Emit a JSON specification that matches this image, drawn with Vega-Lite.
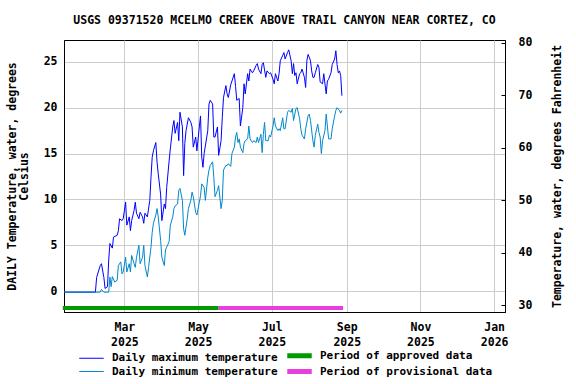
{
  "$schema": "https://vega.github.io/schema/vega-lite/v6.json",
  "width": 441,
  "height": 272,
  "autosize": {"type": "none"},
  "padding": {"left": 64, "top": 40, "right": 71, "bottom": 72},
  "background": "white",
  "config": {
    "font": "DejaVu Sans Mono",
    "view": {"stroke": "black", "strokeWidth": 1},
    "axis": {
      "labelFont": "DejaVu Sans Mono", "labelFontWeight": "bold", "labelFontSize": 11.5, "labelColor": "black",
      "titleFont": "DejaVu Sans Mono", "titleFontWeight": "bold", "titleFontSize": 11.5, "titleColor": "black",
      "domainColor": "black", "gridColor": "#cccccc", "gridWidth": 1, "labelFlush": false, "labelOverlap": false, "labelBound": false
    },
    "legend": {"title": null}
  },
  "title": {
    "text": "USGS 09371520 MCELMO CREEK ABOVE TRAIL CANYON NEAR CORTEZ, CO",
    "anchor": "middle", "font": "DejaVu Sans Mono", "fontSize": 11.5, "fontWeight": "bold", "color": "black", "offset": 10
  },
  "layer": [
    {
      "layer": [
        {
          "data": {"values": [
            {"d":"2025-01-10","t":-0.1},{"d":"2025-02-05","t":-0.1},{"d":"2025-02-06","t":1.5},{"d":"2025-02-09","t":2.8},{"d":"2025-02-10","t":3.0},{"d":"2025-02-12","t":1.5},{"d":"2025-02-13","t":0.3},{"d":"2025-02-15","t":0.5},{"d":"2025-02-16","t":3.4},{"d":"2025-02-17","t":5.2},{"d":"2025-02-19","t":4.7},{"d":"2025-02-20","t":5.9},{"d":"2025-02-23","t":6.1},{"d":"2025-02-24","t":6.6},{"d":"2025-02-25","t":7.9},{"d":"2025-02-27","t":7.7},{"d":"2025-02-28","t":7.9},
            {"d":"2025-03-02","t":9.7},{"d":"2025-03-03","t":7.2},{"d":"2025-03-05","t":8.1},{"d":"2025-03-06","t":6.6},{"d":"2025-03-07","t":7.7},{"d":"2025-03-09","t":8.8},{"d":"2025-03-10","t":9.7},{"d":"2025-03-11","t":8.5},{"d":"2025-03-13","t":7.9},{"d":"2025-03-14","t":8.6},{"d":"2025-03-16","t":8.1},{"d":"2025-03-17","t":7.4},{"d":"2025-03-18","t":8.5},{"d":"2025-03-20","t":8.1},{"d":"2025-03-22","t":9.9},{"d":"2025-03-23","t":12.4},{"d":"2025-03-24","t":14.6},{"d":"2025-03-25","t":15.3},{"d":"2025-03-27","t":16.2},{"d":"2025-03-28","t":14.1},{"d":"2025-03-29","t":12.8},{"d":"2025-03-31","t":10.5},
            {"d":"2025-04-01","t":7.7},{"d":"2025-04-03","t":9.5},{"d":"2025-04-04","t":9.0},{"d":"2025-04-05","t":11.3},{"d":"2025-04-07","t":14.2},{"d":"2025-04-08","t":15.5},{"d":"2025-04-10","t":17.9},{"d":"2025-04-11","t":18.6},{"d":"2025-04-12","t":17.2},{"d":"2025-04-14","t":18.4},{"d":"2025-04-15","t":16.4},{"d":"2025-04-16","t":19.5},{"d":"2025-04-18","t":17.9},{"d":"2025-04-19","t":12.6},{"d":"2025-04-20","t":16.1},{"d":"2025-04-21","t":17.5},{"d":"2025-04-23","t":18.9},{"d":"2025-04-25","t":18.4},{"d":"2025-04-26","t":17.9},{"d":"2025-04-27","t":15.7},{"d":"2025-04-29","t":16.8},{"d":"2025-04-30","t":15.3},
            {"d":"2025-05-02","t":17.9},{"d":"2025-05-03","t":19.1},{"d":"2025-05-04","t":14.6},{"d":"2025-05-05","t":13.5},{"d":"2025-05-06","t":15.0},{"d":"2025-05-09","t":17.5},{"d":"2025-05-10","t":20.4},{"d":"2025-05-11","t":20.8},{"d":"2025-05-13","t":20.4},{"d":"2025-05-14","t":16.8},{"d":"2025-05-15","t":16.8},{"d":"2025-05-17","t":17.9},{"d":"2025-05-18","t":14.8},{"d":"2025-05-20","t":16.4},{"d":"2025-05-21","t":18.9},{"d":"2025-05-22","t":21.1},{"d":"2025-05-24","t":22.4},{"d":"2025-05-25","t":21.5},{"d":"2025-05-26","t":21.1},{"d":"2025-05-28","t":22.5},{"d":"2025-05-29","t":22.9},{"d":"2025-05-31","t":23.7},
            {"d":"2025-06-01","t":22.3},{"d":"2025-06-02","t":20.8},{"d":"2025-06-04","t":21.0},{"d":"2025-06-05","t":18.0},{"d":"2025-06-07","t":20.0},{"d":"2025-06-08","t":22.6},{"d":"2025-06-09","t":21.5},{"d":"2025-06-11","t":23.7},{"d":"2025-06-12","t":22.9},{"d":"2025-06-13","t":24.2},{"d":"2025-06-15","t":23.8},{"d":"2025-06-16","t":24.0},{"d":"2025-06-18","t":24.6},{"d":"2025-06-19","t":24.8},{"d":"2025-06-20","t":24.2},{"d":"2025-06-22","t":23.7},{"d":"2025-06-23","t":24.7},{"d":"2025-06-24","t":24.9},{"d":"2025-06-26","t":23.3},{"d":"2025-06-27","t":24.0},{"d":"2025-06-29","t":23.7},{"d":"2025-06-30","t":23.8},
            {"d":"2025-07-02","t":23.1},{"d":"2025-07-03","t":22.6},{"d":"2025-07-04","t":23.7},{"d":"2025-07-06","t":22.9},{"d":"2025-07-07","t":23.7},{"d":"2025-07-08","t":25.1},{"d":"2025-07-10","t":25.7},{"d":"2025-07-11","t":26.0},{"d":"2025-07-12","t":25.3},{"d":"2025-07-14","t":26.0},{"d":"2025-07-15","t":26.3},{"d":"2025-07-17","t":25.1},{"d":"2025-07-18","t":23.7},{"d":"2025-07-19","t":24.8},{"d":"2025-07-20","t":23.5},{"d":"2025-07-21","t":23.8},{"d":"2025-07-22","t":22.6},{"d":"2025-07-24","t":23.7},{"d":"2025-07-25","t":23.8},{"d":"2025-07-26","t":24.2},{"d":"2025-07-28","t":23.3},{"d":"2025-07-29","t":22.2},{"d":"2025-07-30","t":25.1},{"d":"2025-07-31","t":25.8},
            {"d":"2025-08-01","t":25.5},{"d":"2025-08-02","t":25.1},{"d":"2025-08-03","t":24.0},{"d":"2025-08-04","t":23.3},{"d":"2025-08-05","t":23.3},{"d":"2025-08-06","t":23.8},{"d":"2025-08-08","t":24.7},{"d":"2025-08-09","t":24.4},{"d":"2025-08-10","t":22.8},{"d":"2025-08-12","t":22.6},{"d":"2025-08-13","t":23.7},{"d":"2025-08-15","t":21.5},{"d":"2025-08-16","t":22.9},{"d":"2025-08-17","t":23.1},{"d":"2025-08-19","t":23.8},{"d":"2025-08-20","t":24.7},{"d":"2025-08-22","t":25.3},{"d":"2025-08-23","t":26.2},{"d":"2025-08-24","t":24.7},{"d":"2025-08-25","t":23.8},{"d":"2025-08-26","t":24.0},{"d":"2025-08-27","t":23.5},{"d":"2025-08-28","t":21.3}
          ]},
          "mark": {"type": "line", "strokeWidth": 1},
          "encoding": {
            "x": {
              "field": "d", "type": "temporal",
              "scale": {"type": "utc", "domain": [{"year": 2025, "month": 1, "date": 10, "utc": true}, {"year": 2026, "month": 1, "date": 10, "utc": true}]},
              "axis": {
                "title": null, "grid": true, "ticks": false, "labelPadding": 9, "labelLineHeight": 15,
                "values": [{"year": 2025, "month": 3, "date": 1, "utc": true}, {"year": 2025, "month": 5, "date": 1, "utc": true}, {"year": 2025, "month": 7, "date": 1, "utc": true}, {"year": 2025, "month": 9, "date": 1, "utc": true}, {"year": 2025, "month": 11, "date": 1, "utc": true}, {"year": 2026, "month": 1, "date": 1, "utc": true}],
                "labelExpr": "[utcFormat(datum.value, '%b'), utcFormat(datum.value, '%Y')]"
              }
            },
            "y": {
              "field": "t", "type": "quantitative",
              "scale": {"domain": [-2.26, 27.37], "nice": false, "zero": false},
              "axis": {"values": [0, 5, 10, 15, 20, 25], "ticks": false, "labelPadding": 7, "grid": true, "title": ["DAILY Temperature, water, degrees", "Celsius"], "titlePadding": 14, "titleLineHeight": 12}
            },
            "color": {
              "datum": "Daily maximum temperature",
              "title": null,
              "scale": {"domain": ["Daily maximum temperature", "Period of approved data", "Daily minimum temperature", "Period of provisional data"], "range": ["#0000ff", "#009900", "#0088cc", "#e83ee0"]},
              "legend": {
                "title": null, "orient": "none", "legendX": 22, "legendY": 310, "columns": 2, "direction": "horizontal",
                "symbolType": "stroke", "symbolSize": 600, "symbolStrokeWidth": 1, "labelFont": "DejaVu Sans Mono", "labelFontSize": 11, "labelFontWeight": "bold", "labelColor": "black", "labelOffset": 15, "labelLimit": 400, "rowPadding": -7, "columnPadding": -1, "padding": 0,
                "encode": {"symbols": {"update": {"strokeWidth": {"signal": "datum.value == 'Period of approved data' || datum.value == 'Period of provisional data' ? 5 : 1"}}}}
              }
            }
          }
        },
        {
          "data": {"values": [
            {"d":"2025-01-10","t":-0.1},{"d":"2025-02-09","t":-0.1},{"d":"2025-02-10","t":0.2},{"d":"2025-02-12","t":-0.1},{"d":"2025-02-16","t":-0.1},{"d":"2025-02-17","t":1.55},{"d":"2025-02-18","t":0.5},{"d":"2025-02-19","t":1.6},{"d":"2025-02-21","t":1.0},{"d":"2025-02-23","t":1.2},{"d":"2025-02-24","t":2.8},{"d":"2025-02-26","t":3.2},{"d":"2025-02-27","t":1.9},{"d":"2025-02-28","t":2.1},
            {"d":"2025-03-02","t":3.7},{"d":"2025-03-03","t":2.1},{"d":"2025-03-05","t":3.0},{"d":"2025-03-06","t":2.1},{"d":"2025-03-07","t":3.9},{"d":"2025-03-09","t":3.0},{"d":"2025-03-10","t":2.6},{"d":"2025-03-11","t":3.7},{"d":"2025-03-13","t":5.0},{"d":"2025-03-14","t":3.0},{"d":"2025-03-16","t":3.7},{"d":"2025-03-17","t":5.0},{"d":"2025-03-18","t":2.8},{"d":"2025-03-20","t":1.55},{"d":"2025-03-21","t":2.6},{"d":"2025-03-23","t":4.8},{"d":"2025-03-24","t":6.4},{"d":"2025-03-25","t":7.4},{"d":"2025-03-27","t":8.3},{"d":"2025-03-28","t":9.0},{"d":"2025-03-29","t":8.1},{"d":"2025-03-31","t":5.5},
            {"d":"2025-04-01","t":3.7},{"d":"2025-04-03","t":2.8},{"d":"2025-04-04","t":4.5},{"d":"2025-04-05","t":4.8},{"d":"2025-04-07","t":5.4},{"d":"2025-04-08","t":7.2},{"d":"2025-04-10","t":8.1},{"d":"2025-04-11","t":9.0},{"d":"2025-04-12","t":9.3},{"d":"2025-04-14","t":9.5},{"d":"2025-04-15","t":11.0},{"d":"2025-04-16","t":11.2},{"d":"2025-04-18","t":9.9},{"d":"2025-04-19","t":6.8},{"d":"2025-04-20","t":6.1},{"d":"2025-04-22","t":7.9},{"d":"2025-04-23","t":9.0},{"d":"2025-04-25","t":9.9},{"d":"2025-04-26","t":10.8},{"d":"2025-04-27","t":10.3},{"d":"2025-04-29","t":8.6},{"d":"2025-04-30","t":8.3},
            {"d":"2025-05-02","t":9.7},{"d":"2025-05-03","t":10.4},{"d":"2025-05-04","t":11.7},{"d":"2025-05-06","t":11.3},{"d":"2025-05-07","t":9.9},{"d":"2025-05-09","t":12.4},{"d":"2025-05-10","t":13.2},{"d":"2025-05-11","t":13.7},{"d":"2025-05-13","t":14.1},{"d":"2025-05-14","t":12.4},{"d":"2025-05-15","t":10.3},{"d":"2025-05-17","t":11.0},{"d":"2025-05-18","t":11.5},{"d":"2025-05-20","t":9.0},{"d":"2025-05-21","t":9.9},{"d":"2025-05-22","t":13.2},{"d":"2025-05-24","t":13.7},{"d":"2025-05-25","t":13.7},{"d":"2025-05-26","t":13.9},{"d":"2025-05-28","t":13.6},{"d":"2025-05-29","t":15.0},{"d":"2025-05-31","t":15.7},
            {"d":"2025-06-01","t":16.8},{"d":"2025-06-02","t":17.3},{"d":"2025-06-03","t":16.2},{"d":"2025-06-04","t":16.6},{"d":"2025-06-05","t":15.7},{"d":"2025-06-07","t":15.1},{"d":"2025-06-08","t":16.1},{"d":"2025-06-09","t":16.4},{"d":"2025-06-11","t":16.6},{"d":"2025-06-12","t":18.0},{"d":"2025-06-13","t":16.6},{"d":"2025-06-15","t":16.2},{"d":"2025-06-16","t":16.4},{"d":"2025-06-18","t":16.2},{"d":"2025-06-19","t":16.8},{"d":"2025-06-20","t":16.2},{"d":"2025-06-22","t":17.1},{"d":"2025-06-23","t":15.1},{"d":"2025-06-24","t":17.1},{"d":"2025-06-25","t":18.4},{"d":"2025-06-26","t":16.4},{"d":"2025-06-28","t":16.4},{"d":"2025-06-29","t":17.0},{"d":"2025-06-30","t":16.8},
            {"d":"2025-07-02","t":18.0},{"d":"2025-07-03","t":18.9},{"d":"2025-07-04","t":18.0},{"d":"2025-07-06","t":17.5},{"d":"2025-07-07","t":17.7},{"d":"2025-07-08","t":17.5},{"d":"2025-07-10","t":18.9},{"d":"2025-07-11","t":17.7},{"d":"2025-07-12","t":17.7},{"d":"2025-07-14","t":19.5},{"d":"2025-07-15","t":19.7},{"d":"2025-07-17","t":19.5},{"d":"2025-07-18","t":19.9},{"d":"2025-07-19","t":18.6},{"d":"2025-07-21","t":19.9},{"d":"2025-07-22","t":20.0},{"d":"2025-07-24","t":18.8},{"d":"2025-07-25","t":17.7},{"d":"2025-07-26","t":17.0},{"d":"2025-07-28","t":16.6},{"d":"2025-07-29","t":17.7},{"d":"2025-07-31","t":19.1},
            {"d":"2025-08-01","t":19.3},{"d":"2025-08-02","t":18.6},{"d":"2025-08-04","t":16.4},{"d":"2025-08-05","t":15.7},{"d":"2025-08-06","t":17.0},{"d":"2025-08-08","t":18.2},{"d":"2025-08-09","t":17.3},{"d":"2025-08-10","t":16.8},{"d":"2025-08-11","t":15.0},{"d":"2025-08-12","t":16.4},{"d":"2025-08-14","t":17.5},{"d":"2025-08-15","t":19.3},{"d":"2025-08-16","t":18.0},{"d":"2025-08-17","t":16.6},{"d":"2025-08-19","t":16.6},{"d":"2025-08-20","t":17.7},{"d":"2025-08-22","t":19.1},{"d":"2025-08-23","t":19.7},{"d":"2025-08-24","t":20.0},{"d":"2025-08-26","t":19.7},{"d":"2025-08-27","t":19.4},{"d":"2025-08-28","t":19.7}
          ]},
          "mark": {"type": "line", "strokeWidth": 1},
          "encoding": {
            "x": {"field": "d", "type": "temporal"},
            "y": {"field": "t", "type": "quantitative"},
            "color": {"datum": "Daily minimum temperature", "title": null}
          }
        },
        {
          "data": {"values": [
            {"start": "2025-01-09", "end": "2025-05-18", "s": "Period of approved data"},
            {"start": "2025-05-18", "end": "2025-08-29", "s": "Period of provisional data"}
          ]},
          "mark": {"type": "rule", "strokeWidth": 4, "strokeCap": "butt"},
          "encoding": {
            "x": {"field": "start", "type": "temporal"},
            "x2": {"field": "end"},
            "y": {"datum": -1.82, "type": "quantitative"},
            "color": {"field": "s", "type": "nominal", "title": null}
          }
        }
      ]
    },
    {
      "data": {"values": [{}]},
      "mark": {"type": "rule", "strokeOpacity": 0},
      "encoding": {
        "y": {
          "datum": 50, "type": "quantitative",
          "scale": {"domain": [28.72, 80.57], "nice": false, "zero": false},
          "axis": {"orient": "right", "values": [30, 40, 50, 60, 70, 80], "grid": false, "ticks": true, "tickColor": "black", "tickSize": -4, "labelPadding": 17, "title": "Temperature, water, degrees Fahrenheit", "titleAngle": -90, "titlePadding": 31}
        }
      }
    }
  ],
  "resolve": {"scale": {"y": "independent"}, "axis": {"y": "independent"}}
}
